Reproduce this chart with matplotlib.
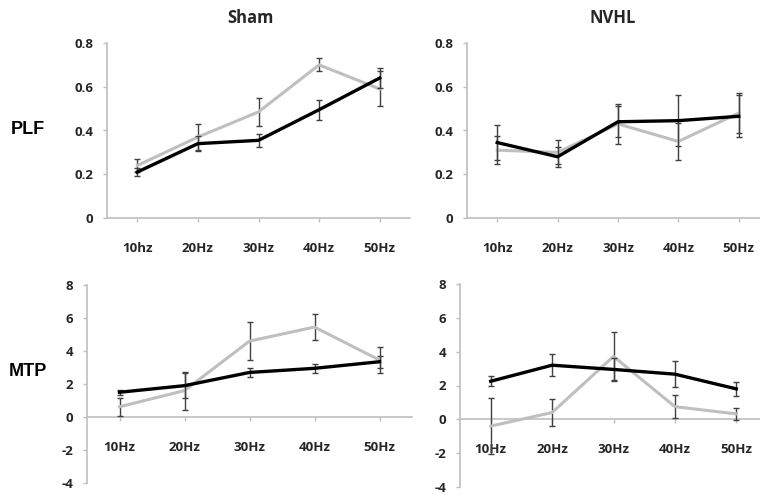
import matplotlib
matplotlib.use("Agg")
import matplotlib.pyplot as plt
import numpy as np

# data
plf_labels = ["10hz", "20Hz", "30Hz", "40Hz", "50Hz"]
mtp_labels = ["10Hz", "20Hz", "30Hz", "40Hz", "50Hz"]

sham_plf_black = [0.21, 0.34, 0.355, 0.495, 0.64]
sham_plf_black_err = [0.02, 0.035, 0.03, 0.045, 0.045]
sham_plf_gray = [0.24, 0.37, 0.485, 0.70, 0.59]
sham_plf_gray_err = [0.03, 0.06, 0.065, 0.03, 0.08]

nvhl_plf_black = [0.345, 0.28, 0.44, 0.445, 0.465]
nvhl_plf_black_err = [0.08, 0.045, 0.07, 0.115, 0.095]
nvhl_plf_gray = [0.31, 0.30, 0.43, 0.35, 0.48]
nvhl_plf_gray_err = [0.065, 0.055, 0.09, 0.085, 0.09]

sham_mtp_black = [1.5, 1.9, 2.7, 2.95, 3.35]
sham_mtp_black_err = [0.15, 0.75, 0.3, 0.27, 0.35]
sham_mtp_gray = [0.62, 1.6, 4.6, 5.45, 3.45]
sham_mtp_gray_err = [0.55, 1.15, 1.15, 0.8, 0.8]

nvhl_mtp_black = [2.25, 3.2, 2.95, 2.67, 1.8]
nvhl_mtp_black_err = [0.3, 0.65, 0.65, 0.78, 0.4]
nvhl_mtp_gray = [-0.4, 0.4, 3.72, 0.75, 0.32]
nvhl_mtp_gray_err = [1.65, 0.8, 1.45, 0.67, 0.35]

W, H = 760, 495
fig = plt.figure(figsize=(7.6, 4.95), dpi=100)

axis_col = "#bfbfbf"
txt_col = "#262626"
font = "Open Sans"


def make_ax(left, top, right, bottom):
    return fig.add_axes([left / W, 1 - bottom / H, (right - left) / W, (bottom - top) / H])


def style(ax, labels, ylim, yticks, yfmt, zero_axis, lab_pad):
    x = np.arange(len(labels)) + 0.5
    ax.set_xlim(0, len(labels))
    ax.set_ylim(*ylim)
    ax.set_yticks(yticks)
    ax.set_yticklabels([yfmt(v) for v in yticks])
    ax.set_xticks(x)
    ax.set_xticklabels(labels)
    for s in ["top", "right"]:
        ax.spines[s].set_visible(False)
    for s in ["left", "bottom"]:
        ax.spines[s].set_color(axis_col)
        ax.spines[s].set_linewidth(1.2)
    if zero_axis:
        ax.spines["bottom"].set_position(("data", 0))
    ax.tick_params(axis="both", color=axis_col, length=3, width=1, direction="out")
    ax.tick_params(axis="y", pad=7)
    ax.tick_params(axis="x", pad=lab_pad)
    for t in ax.get_xticklabels() + ax.get_yticklabels():
        t.set_fontfamily(font)
        t.set_fontweight("bold")
        t.set_fontsize(9.5)
        t.set_color(txt_col)
    ax.patch.set_alpha(0)
    return x


def draw(ax, x, black, black_err, gray, gray_err):
    ax.errorbar(x, gray, yerr=gray_err, color="#bfbfbf", lw=2.2,
                ecolor="#404040", elinewidth=1, capsize=2.5, capthick=1, zorder=3)
    ax.errorbar(x, black, yerr=black_err, color="black", lw=2.4,
                ecolor="#404040", elinewidth=1, capsize=2.5, capthick=1, zorder=4)
    for ln in ax.lines:
        ln.set_clip_on(False)


plf_fmt = lambda v: "0" if v == 0 else f"{v:.1f}"
mtp_fmt = lambda v: f"{v:d}"

ax1 = make_ax(107, 43, 410, 218)
x = style(ax1, plf_labels, (0, 0.8), [0, 0.2, 0.4, 0.6, 0.8], plf_fmt, False, 14)
draw(ax1, x, sham_plf_black, sham_plf_black_err, sham_plf_gray, sham_plf_gray_err)

ax2 = make_ax(467, 43, 769, 218)
x = style(ax2, plf_labels, (0, 0.8), [0, 0.2, 0.4, 0.6, 0.8], plf_fmt, False, 14)
draw(ax2, x, nvhl_plf_black, nvhl_plf_black_err, nvhl_plf_gray, nvhl_plf_gray_err)

ax3 = make_ax(87, 285, 412, 483)
x = style(ax3, mtp_labels, (-4, 8), [-4, -2, 0, 2, 4, 6, 8], mtp_fmt, True, 14)
draw(ax3, x, sham_mtp_black, sham_mtp_black_err, sham_mtp_gray, sham_mtp_gray_err)

ax4 = make_ax(460, 284, 767, 487)
x = style(ax4, mtp_labels, (-4, 8), [-4, -2, 0, 2, 4, 6, 8], mtp_fmt, True, 14)
draw(ax4, x, nvhl_mtp_black, nvhl_mtp_black_err, nvhl_mtp_gray, nvhl_mtp_gray_err)

# column titles and row labels
fig.text(250 / W, 1 - 18 / H, "Sham", ha="center", va="center", fontsize=12,
         fontweight="bold", family=font, color=txt_col)
fig.text(613 / W, 1 - 18 / H, "NVHL", ha="center", va="center", fontsize=12,
         fontweight="bold", family=font, color=txt_col)
fig.text(28 / W, 1 - 130 / H, "PLF", ha="center", va="center", fontsize=13,
         fontweight="bold", family="Liberation Sans", color="black")
fig.text(28 / W, 1 - 372 / H, "MTP", ha="center", va="center", fontsize=13,
         fontweight="bold", family="Liberation Sans", color="black")

fig.savefig("out.png", dpi=100, facecolor="white")
